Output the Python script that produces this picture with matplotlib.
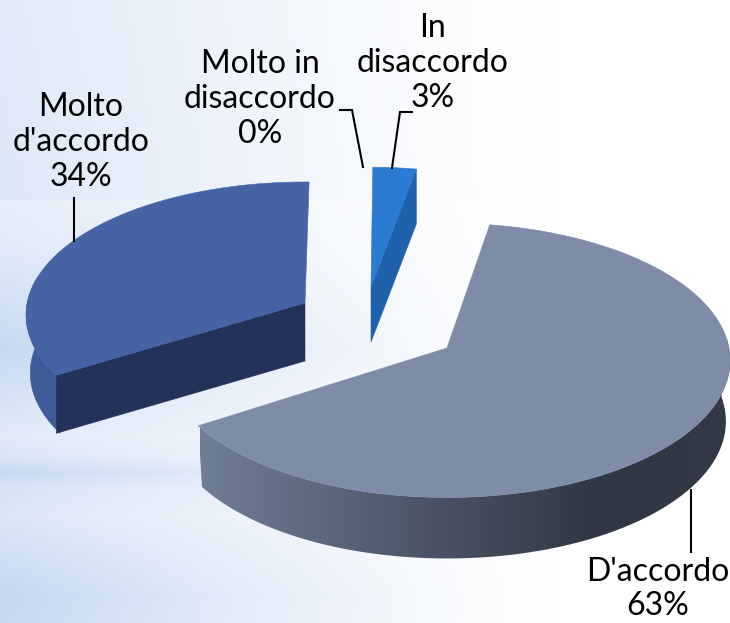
import numpy as np
import matplotlib
matplotlib.use("Agg")
import matplotlib.pyplot as plt
from matplotlib.patches import Polygon
from matplotlib.colors import LinearSegmentedColormap

# ---- data ----
categories = ["D'accordo", "Molto d'accordo", "Molto in disaccordo", "In disaccordo"]
values = [63.2, 34.0, 0.0, 2.8]
label_text = ["D'accordo\n63%", "Molto\nd'accordo\n34%", "Molto in\ndisaccordo\n0%", "In\ndisaccordo\n3%"]

# ---- style ----
W, H = 730, 623
START = 9.5
A, B, K = 282, 136, 0.09
apex = {0: (447, 348), 1: (305, 303), 3: (371, 287)}
scale = {0: 1.0, 1: 0.985, 3: 0.96}
yscale = {0: 1.0, 1: 0.97, 3: 0.96}
rot = {0: 0.0, 1: 1.5, 3: 1.0}
depth = {0: 61, 1: 58, 3: 55}
BOTTOM_SHRINK = 0.985
top_col = {0: "#7E8CA8", 1: "#4663A6", 3: "#2A7BD1"}
cut_col = {1: "#24325A", 3: "#1F62AB"}
wall_col = {1: "#3F5A99"}
FONT = "Lato"
FS = 23

fig = plt.figure(figsize=(W / 100, H / 100), dpi=100)
ax = fig.add_axes([0, 0, 1, 1])
ax.set_xlim(0, W)
ax.set_ylim(H, 0)
ax.axis("off")

# background wash: red channel at the left edge, per image row
bg_rows = [0, 199, 200, 245, 300, 350, 400, 436, 458, 472, 488, 516, 595, 623]
bg_left = [0.88, 0.865, 0.90, 0.88, 0.83, 0.78, 0.84, 0.88, 0.85, 0.78, 0.84, 0.86, 0.77, 0.78]
prof = np.interp(np.arange(H), bg_rows, bg_left)
fade = np.clip(1 - np.arange(W) / 560, 0, 1) ** 1.3
amt = (1 - prof)[:, None] * fade[None, :]
bg = np.clip(1 - amt[:, :, None] * np.array([1.0, 0.69, 0.24])[None, None, :], 0, 1)
ax.imshow(bg, extent=(0, W, H, 0), aspect="auto", zorder=0)
ax.set_xlim(0, W)
ax.set_ylim(H, 0)


def project(i, th, shrink=1.0):
    t = np.radians(th + rot[i])
    s, c = np.sin(t), np.cos(t)
    d = 1 + K * c
    return (apex[i][0] + shrink * A * scale[i] * s / d,
            apex[i][1] - B * yscale[i] * c / d)


# slice angles from the values
edges = START + np.cumsum([0] + [v * 3.6 for v in values])
spans = {i: (edges[i], edges[i + 1]) for i in range(len(values))}


def arc(i, a0, a1, n=200, shrink=1.0):
    th = np.linspace(a0, a1, n)
    return np.column_stack(project(i, th, shrink))


def wall_poly(i, a0, a1):
    top = arc(i, a0, a1)
    bot = arc(i, a0, a1, shrink=BOTTOM_SHRINK) + np.array([0, depth[i]])
    return np.vstack([top, bot[::-1]])


def add_poly(pts, col, z):
    p = Polygon(pts, closed=True, facecolor=col, edgecolor=col, lw=0.4, zorder=z)
    ax.add_patch(p)
    return p


# ---- slice 1: Molto d'accordo ----
i = 1
a0, a1 = spans[i]
ap = np.array(apex[i], float)
dz = np.array([0, depth[i]])
add_poly(wall_poly(i, a0, 280), wall_col[i], 2)
e = arc(i, a0, a0, 1)[0]
add_poly([ap, e, e + dz, ap + dz], cut_col[i], 3)
add_poly(np.vstack([[ap], arc(i, a0, a1)]), top_col[i], 4)

# ---- slice 3: In disaccordo ----
i = 3
a0, a1 = spans[i]
ap = np.array(apex[i], float)
dz = np.array([0, depth[i]])
e = arc(i, a1, a1, 1)[0]
add_poly([ap, e, e + dz, ap + dz], cut_col[i], 3)
add_poly(np.vstack([[ap], arc(i, a0, a1)]), top_col[i], 4)

# ---- slice 0: D'accordo ----
i = 0
a0, a1 = spans[i]
ap = np.array(apex[i], float)
wp = add_poly(wall_poly(i, 85, a1), "none", 2)
wp.set_edgecolor("none")
cm = LinearSegmentedColormap.from_list("w", ["#707E96", "#5A667C", "#454D5E", "#303742", "#333A45"])
x0, x1 = 200, 730
ramp = np.interp(np.linspace(x0, x1, 256), [200, 330, 470, 600, 730], [0, .25, .5, .75, 1])[None, :]
im = ax.imshow(ramp, cmap=cm, vmin=0, vmax=1, extent=(x0, x1, 580, 340), aspect="auto", zorder=2)
im.set_clip_path(wp)
ax.set_xlim(0, W)
ax.set_ylim(H, 0)
add_poly(np.vstack([[ap], arc(i, a0, a1, 400)]), top_col[i], 4)

# ---- leader lines ----
leaders = [
    ([74, 74], [198, 241]),
    ([340, 352, 363], [110, 110, 167]),
    ([412, 400, 392], [112, 112, 168]),
    ([691, 691], [490, 552]),
]
for xs, yv in leaders:
    ax.plot(xs, yv, color="black", lw=1.5, zorder=5, solid_joinstyle="miter")

# ---- labels ----
label_pos = [(658, 589), (81, 142), (260, 99), (433, 63)]
for (x, y), t in zip(label_pos, label_text):
    ax.text(x, y, t, ha="center", va="center", fontsize=FS, family=FONT,
            color="black", linespacing=1.2, zorder=6)

fig.savefig("out.png", dpi=100)
